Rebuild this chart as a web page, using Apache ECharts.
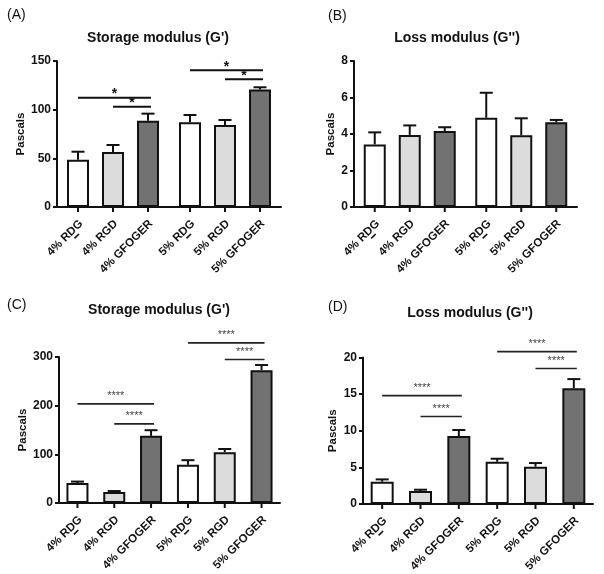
<!DOCTYPE html>
<html><head><meta charset="utf-8">
<script src="https://cdn.jsdelivr.net/npm/echarts@6/dist/echarts.min.js"></script>
<style>html,body{margin:0;padding:0;background:#fff}#c{width:604px;height:574px}</style>
</head><body><div id="c"></div>
<script>
// ---------- data ----------
const concentrations = ['4%', '5%'];
const peptides = ['RD\u0332G', 'RGD', 'GFOGER'];
const barLabels = ['4% RD\u0332G', '4% RGD', '4% GFOGER', '5% RD\u0332G', '5% RGD', '5% GFOGER'];

const storageA = [48.6, 56.5, 88.7, 87.0, 84.2, 120.6];
const storageAErr = [8.2, 7.2, 7.2, 7.5, 5.2, 2.4];
const lossB = [3.43, 3.95, 4.16, 4.89, 3.93, 4.64];
const lossBErr = [0.66, 0.52, 0.21, 1.37, 0.93, 0.13];
const storageC = [41, 22.5, 138, 78.5, 104.5, 273];
const storageCErr = [3, 2.1, 11.6, 9.5, 6.5, 10.5];
const lossD = [3.04, 1.77, 9.27, 5.77, 5.09, 15.8];
const lossDErr = [0.32, 0.18, 0.83, 0.41, 0.5, 1.25];

// significance brackets: [from bar, to bar, height]
const sigA = [[0, 2, 112.3], [1, 2, 103], [3, 5, 140.5], [4, 5, 131.2]];
const sigB = [];
const sigC = [[0, 2, 203.6], [1, 2, 162.6], [3, 5, 329], [4, 5, 295]];
const sigD = [[0, 2, 14.8], [1, 2, 11.95], [3, 5, 20.8], [4, 5, 18.5]];

const yTicksA = [0, 50, 100, 150];
const yTicksB = [0, 2, 4, 6, 8];
const yTicksC = [0, 100, 200, 300];
const yTicksD = [0, 5, 10, 15, 20];

// ---------- layout / style ----------
const FONT = "'Liberation Sans', Arial, Helvetica, sans-serif";
const INK = '#111';
const peptideColors = ['#ffffff', '#dcdcdc', '#727272'];
const LABEL_FONT = 'bold 11.5px ' + FONT;

const measureCtx = document.createElement('canvas').getContext('2d');
function textW(s, font) { measureCtx.font = font; return measureCtx.measureText(s).width; }

// split a label carrying a combining low line into plain text + underline span
function labelParts(s) {
  const idx = s.indexOf('\u0332');
  if (idx < 0) return {text: s, ul: null};
  const plain = s.replace('\u0332', '');
  const after = plain.slice(idx);           // text after the underlined char
  const ch = plain.charAt(idx - 1);
  const wAfter = textW(after, LABEL_FONT), wCh = textW(ch, LABEL_FONT);
  return {text: plain, ul: [-(wAfter + wCh) + 1, -wAfter - 1]};
}

const panels = [
  {tag: '(A)', tagPos: [7, 8], title: "Storage modulus (G')", titlePos: [158, 31],
   mean: storageA, err: storageAErr, sig: sigA, mark: '*', ticks: yTicksA,
   grid: {left: 57, top: 61, width: 224, height: 146}, barW: 22, spacing: 35, nameGap: 26},
  {tag: '(B)', tagPos: [328, 9], title: 'Loss modulus (G\'\')', titlePos: [457, 31],
   mean: lossB, err: lossBErr, sig: sigB, mark: '*', ticks: yTicksB,
   grid: {left: 354, top: 61, width: 223, height: 146}, barW: 22, spacing: 35, nameGap: 17},
  {tag: '(C)', tagPos: [7, 298], title: "Storage modulus (G')", titlePos: [159, 303],
   mean: storageC, err: storageCErr, sig: sigC, mark: '****', ticks: yTicksC,
   grid: {left: 59, top: 357, width: 221, height: 146}, barW: 22, spacing: 36.8, nameGap: 29},
  {tag: '(D)', tagPos: [328, 300], title: 'Loss modulus (G\'\')', titlePos: [470, 306],
   mean: lossD, err: lossDErr, sig: sigD, mark: '****', ticks: yTicksD,
   grid: {left: 363, top: 357.5, width: 230, height: 146.5}, barW: 23, spacing: 38.33, nameGap: 24}
];

const grids = [], xAxes = [], yAxes = [], series = [], graphics = [];

panels.forEach((P, p) => {
  grids.push(Object.assign({containLabel: false}, P.grid));
  xAxes.push({
    type: 'category', gridIndex: p, data: concentrations,
    axisLine: {lineStyle: {color: INK, width: 2}},
    axisTick: {show: false}, axisLabel: {show: false}, splitLine: {show: false}
  });
  const t = P.ticks;
  yAxes.push({
    type: 'value', gridIndex: p, min: t[0], max: t[t.length - 1], interval: t[1] - t[0],
    name: 'Pascals', nameLocation: 'middle', nameGap: P.nameGap,
    nameTextStyle: {fontFamily: FONT, fontWeight: 'bold', fontSize: 11.5, color: INK},
    axisLine: {show: true, lineStyle: {color: INK, width: 2}},
    axisTick: {show: true, length: 4, lineStyle: {color: INK, width: 2}},
    axisLabel: {fontFamily: FONT, fontWeight: 'bold', fontSize: 12, color: INK, margin: 6},
    splitLine: {show: false}
  });
  const gapPct = ((P.spacing - P.barW) / P.barW * 100).toFixed(2) + '%';
  peptides.forEach((pep, k) => {
    series.push({
      type: 'bar', name: pep, xAxisIndex: p, yAxisIndex: p,
      data: concentrations.map((c, ci) => P.mean[ci * 3 + k]),
      barWidth: P.barW, barGap: gapPct,
      itemStyle: {color: peptideColors[k], borderColor: INK, borderWidth: 2},
      silent: true, animation: false, z: 2
    });
  });
  // error bars, x ticks and x labels per bar
  series.push({
    type: 'custom', xAxisIndex: p, yAxisIndex: p, clip: false, silent: true, animation: false, z: 3,
    data: P.mean.map((m, i) => [Math.floor(i / 3), m, P.err[i], i % 3, i]),
    encode: {x: 0, y: 1},
    renderItem: (params, api) => {
      const cat = api.value(0), m = api.value(1), e = api.value(2), k = api.value(3), i = api.value(4);
      const b = api.coord([cat, 0]), tp = api.coord([cat, m]), et = api.coord([cat, m + e]);
      const x = b[0] + (k - 1) * P.spacing;
      const ls = {stroke: INK, lineWidth: 2};
      const lp = labelParts(barLabels[i]);
      const labelKids = [
        {type: 'text', x: 0, y: 0,
         style: {text: lp.text, font: LABEL_FONT, fill: INK,
                 align: 'right', verticalAlign: 'middle', textAlign: 'right', textVerticalAlign: 'middle'}}
      ];
      if (lp.ul) labelKids.push({type: 'line', shape: {x1: lp.ul[0], y1: 7, x2: lp.ul[1], y2: 7},
                                 style: {stroke: INK, lineWidth: 1.6}});
      return {type: 'group', children: [
        {type: 'line', shape: {x1: x, y1: tp[1], x2: x, y2: et[1]}, style: ls},
        {type: 'line', shape: {x1: x - 6.5, y1: et[1], x2: x + 6.5, y2: et[1]}, style: ls},
        {type: 'line', shape: {x1: x, y1: b[1], x2: x, y2: b[1] + 5}, style: ls},
        {type: 'group', x: x + 3, y: b[1] + 15, rotation: Math.PI / 4, children: labelKids}
      ]};
    }
  });
  // significance brackets
  if (P.sig.length) {
    const big = P.mark === '*';
    series.push({
      type: 'custom', xAxisIndex: p, yAxisIndex: p, clip: false, silent: true, animation: false, z: 4,
      data: P.sig.map(s => [Math.floor(s[0] / 3), s[2], s[0] % 3, Math.floor(s[1] / 3), s[1] % 3]),
      encode: {x: 0, y: 1},
      renderItem: (params, api) => {
        const y = api.value(1);
        const p1 = api.coord([api.value(0), y]), p2 = api.coord([api.value(3), y]);
        const x1 = p1[0] + (api.value(2) - 1) * P.spacing;
        const x2 = p2[0] + (api.value(4) - 1) * P.spacing + 3;
        return {type: 'group', children: [
          {type: 'line', shape: {x1: x1, y1: p1[1], x2: x2, y2: p1[1]},
           style: {stroke: big ? INK : '#222', lineWidth: big ? 2 : 1.6}},
          {type: 'text', x: (x1 + x2) / 2, y: p1[1] - (big ? 3.5 : 7.5),
           style: {text: P.mark, font: (big ? 'bold 14px ' : '11px ') + FONT, fill: big ? INK : '#444',
                   align: 'center', verticalAlign: 'middle', textAlign: 'center', textVerticalAlign: 'middle'}}
        ]};
      }
    });
  }
  graphics.push({type: 'text', x: P.tagPos[0], y: P.tagPos[1],
    style: {text: P.tag, font: '14px ' + FONT, fill: INK, align: 'left', verticalAlign: 'top', textAlign: 'left', textVerticalAlign: 'top'}});
  graphics.push({type: 'text', x: P.titlePos[0], y: P.titlePos[1],
    style: {text: P.title, font: 'bold 14px ' + FONT, fill: INK, align: 'center', verticalAlign: 'top', textAlign: 'center', textVerticalAlign: 'top'}});
});

const chart = echarts.init(document.getElementById('c'), null, {renderer: 'canvas'});
chart.setOption({
  backgroundColor: '#fff',
  animation: false,
  grid: grids, xAxis: xAxes, yAxis: yAxes, series: series, graphic: graphics
});
</script></body></html>
